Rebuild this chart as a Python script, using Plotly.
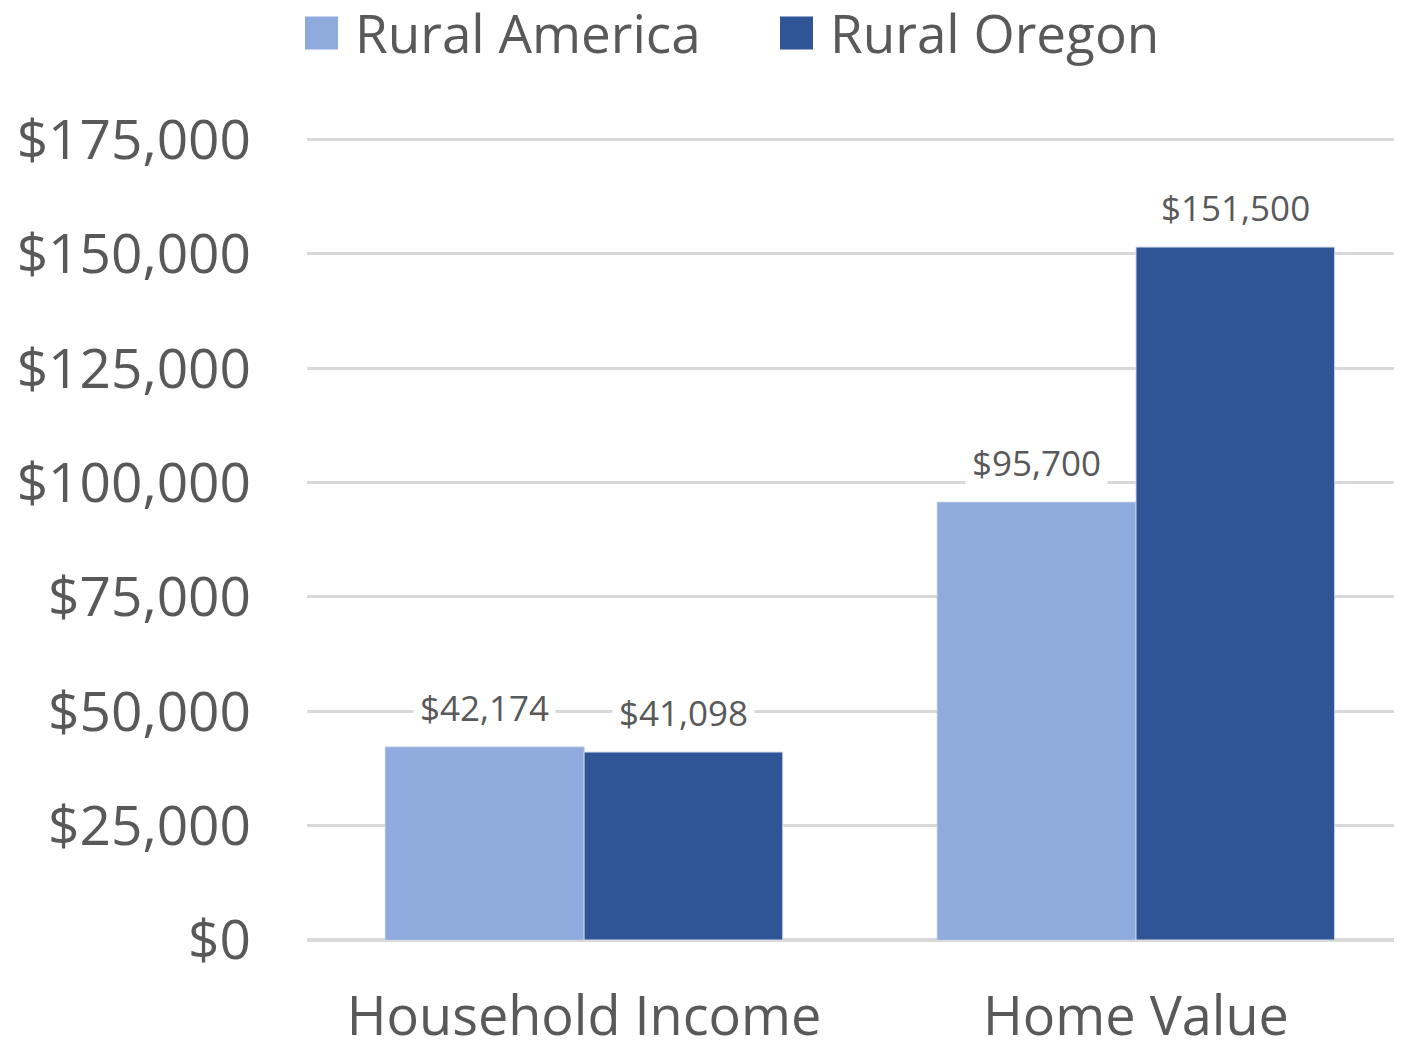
import plotly.graph_objects as go

categories = ["Household Income", "Home Value"]
rural_america = [42174, 95700]
rural_oregon = [41098, 151500]
y_ticks = [0, 25000, 50000, 75000, 100000, 125000, 150000, 175000]

LIGHT = "#8FAADC"
DARK = "#2F5597"
TEXT = "#595959"
FONT = "Open Sans"

# the page body has an 8px margin, so the figure is made 8px smaller
OFF = 8
W, H = 1402 - OFF, 1041 - OFF
M_L, M_R, M_T, M_B = 299, 0, 127, 101
plot_w = W - M_L - M_R
plot_h = H - M_T - M_B
y_max = 176000
x_range = [-0.502, 1.482]
bargap = 0.28
unit_px = plot_w / (x_range[1] - x_range[0])
bar_px = unit_px * (1 - bargap) / 2

fig = go.Figure()
fig.add_trace(go.Bar(
    x=categories, y=rural_america, name="Rural America",
    marker=dict(color=LIGHT, line=dict(color="#A9BDE3", width=1)),
    showlegend=False,
))
fig.add_trace(go.Bar(
    x=categories, y=rural_oregon, name="Rural Oregon",
    marker=dict(color=DARK, line=dict(color="#D6DCE5", width=1)),
    showlegend=False,
))

# data labels with white background (gridlines break behind them)
for series, sign in ((rural_america, -1), (rural_oregon, 1)):
    for cat, v in zip(categories, series):
        fig.add_annotation(
            x=cat, y=v, xref="x", yref="y",
            text=f"${v:,.0f}", showarrow=False,
            xshift=sign * bar_px / 2, yshift=40,
            yanchor="middle",
            bgcolor="white", borderpad=6,
            font=dict(family=FONT, size=35, color=TEXT),
        )

# legend drawn by hand so the swatches match the large type
legend_y = 1 + (M_T - 25) / plot_h
sw = 33
for label, color, px in (("Rural America", LIGHT, 297), ("Rural Oregon", DARK, 772)):
    x0 = (px - M_L) / plot_w
    fig.add_shape(
        type="rect", xref="paper", yref="paper",
        x0=x0, x1=x0 + sw / plot_w,
        y0=legend_y - sw / 2 / plot_h, y1=legend_y + sw / 2 / plot_h,
        fillcolor=color, line=dict(width=0),
    )
    fig.add_annotation(
        x=x0 + (sw + 16) / plot_w, y=legend_y,
        xref="paper", yref="paper", xanchor="left", yanchor="middle",
        text=label, showarrow=False, borderpad=0,
        font=dict(family=FONT, size=53, color=TEXT),
    )

fig.update_layout(
    width=W, height=H,
    paper_bgcolor="white", plot_bgcolor="white",
    margin=dict(l=M_L, r=M_R, t=M_T, b=M_B, autoexpand=False),
    barmode="group", bargap=bargap, bargroupgap=0,
    font=dict(family=FONT, color=TEXT),
    xaxis=dict(
        range=x_range,
        showgrid=False, showline=False, zeroline=False,
        tickfont=dict(family=FONT, size=54, color=TEXT),
        ticklabelstandoff=40, automargin=False,
    ),
    yaxis=dict(
        range=[0, y_max], tickvals=y_ticks, tickformat="$,.0f",
        showgrid=True, gridcolor="#D9D9D9", gridwidth=3,
        zeroline=True, zerolinecolor="#D9D9D9", zerolinewidth=4,
        showline=False, automargin=False,
        tickfont=dict(family=FONT, size=55, color=TEXT),
        ticklabelstandoff=55,
    ),
)

fig.write_html("out.html")
